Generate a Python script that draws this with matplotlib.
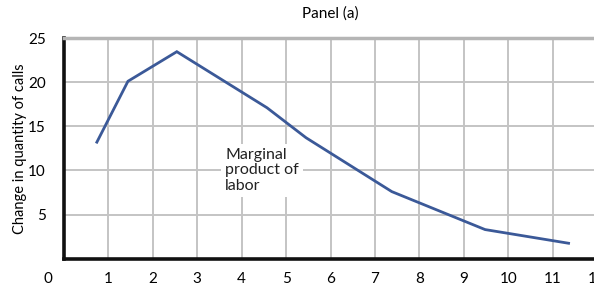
import matplotlib
matplotlib.use("Agg")
import matplotlib.pyplot as plt
import matplotlib.patheffects as pe

plt.rcParams['font.family'] = ['Lato', 'DejaVu Sans']

# Data
labor = [0.74, 1.44, 2.54, 4.57, 5.45, 7.38, 9.48, 11.36]
mpl_calls = [13.2, 20.1, 23.45, 17.1, 13.7, 7.6, 3.3, 1.75]
x_ticks = [1, 2, 3, 4, 5, 6, 7, 8, 9, 10, 11, 12]
y_ticks = [5, 10, 15, 20, 25]

W, H = 594, 287
fig = plt.figure(figsize=(W / 100, H / 100), dpi=100)
left, right, top, bottom = 64, 597, 38, 258.7
ax = fig.add_axes([left / W, 1 - bottom / H, (right - left) / W, (bottom - top) / H])

XPAD = 9.5
ax.set_xlim(0, 12)
ax.set_ylim(0, 25)
ax.set_xticks(x_ticks)
ax.set_yticks(y_ticks)
ax.set_xticklabels([str(t) for t in x_ticks], fontsize=11)
ax.set_yticklabels([str(t) for t in y_ticks], fontsize=11)
ax.tick_params(length=0)
ax.tick_params(axis='x', pad=XPAD)
ax.tick_params(axis='y', pad=13)
ax.grid(True, color='#c4c4c4', linewidth=1.4)
ax.set_axisbelow(True)

for s in ['left', 'bottom']:
    ax.spines[s].set_linewidth(2.6)
    ax.spines[s].set_color('#111111')
    ax.spines[s].set_path_effects([pe.SimplePatchShadow(offset=(-1.5, -2), shadow_rgbFace='#888888', alpha=0.5), pe.Normal()])
ax.spines['top'].set_color('#b5b5b5')
ax.spines['top'].set_linewidth(2.5)
ax.spines['top'].set_path_effects([pe.SimplePatchShadow(offset=(0, 2), shadow_rgbFace='#cccccc', alpha=0.6), pe.Normal()])
ax.spines['right'].set_visible(False)

ax.plot(labor, mpl_calls, color='#3b5998', linewidth=2, solid_joinstyle='miter', zorder=3)

ax.text(3.63, 10, "Marginal\nproduct of\nlabor", fontsize=11.5, ha='left', va='center',
        linespacing=1.12, color='#222222',
        bbox=dict(facecolor='white', edgecolor='none', pad=3), zorder=4)

ax.annotate("0", xy=(0, 0), xycoords='axes fraction', xytext=(-11.5, -XPAD),
            textcoords='offset points', ha='center', va='top', fontsize=11,
            annotation_clip=False)
fig.text(330 / W, 1 - 14 / H, "Panel (a)", fontsize=11, ha='center', va='center')
fig.text(20 / W, 1 - 149 / H, "Change in quantity of calls", fontsize=10.5,
         rotation=90, ha='center', va='center')

fig.savefig("out.png", dpi=100)
